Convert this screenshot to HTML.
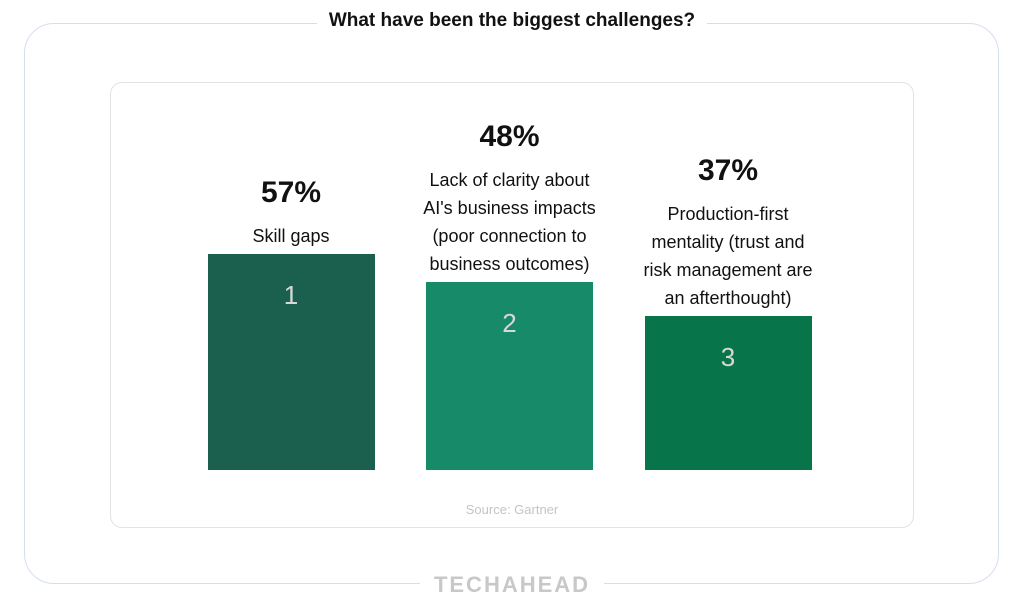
<!DOCTYPE html>
<html><head><meta charset="utf-8"><style>
body{margin:0;width:1024px;height:609px;background:#fff;position:relative;overflow:hidden;font-family:"Liberation Sans",sans-serif}
.abs{position:absolute}
#outer{left:24px;top:23px;width:975px;height:561px;border:1.5px solid #d5deef;border-radius:30px;box-sizing:border-box}
#title{left:0;width:1024px;top:10px;text-align:center;font-size:19px;font-weight:bold;color:#111}
#title span{background:#fff;padding:0 12px}
#inner{left:110px;top:82px;width:804px;height:446px;border:1px solid #e3e3e3;border-radius:12px;box-sizing:border-box}
#logo{left:0;width:1024px;top:572px;text-align:center;font-size:22px;font-weight:bold;color:#c8c8c8;letter-spacing:2px}
#logo span{background:#fff;padding:0 14px}
.pct{font-size:30px;font-weight:bold;color:#111;text-align:center;width:240px;line-height:34px}
.lab{font-size:18px;color:#111;text-align:center;width:240px;line-height:28px}
.bar{display:flex;align-items:flex-start;justify-content:center}
.bar span{margin-top:26px;font-size:26px;color:#d8d8d8}
#src{left:0;width:1024px;top:502px;text-align:center;font-size:13px;color:#c4c4c4}
</style></head><body>
<div id="outer" class="abs"></div>
<div id="title" class="abs"><span>What have been the biggest challenges?</span></div>
<div id="inner" class="abs"></div>
<div id="chart"></div>
<div id="src" class="abs">Source: Gartner</div>
<div id="logo" class="abs"><span>TECHAHEAD</span></div>
<script>
const categories=[["Skill gaps"],["Lack of clarity about","AI's business impacts","(poor connection to","business outcomes)"],["Production-first","mentality (trust and","risk management are","an afterthought)"]];
const values=[57,48,37];
const ranks=["1","2","3"];
const colors=["#1b5f4f","#178a6a","#08744a"];
const baseY=470, barW=167;
const xCenter=i=>291+i*218.5;
const hScale=v=>3.08*(v+13.15);
const chart=document.getElementById('chart');
values.forEach((v,i)=>{
  const top=baseY-hScale(v), cx=xCenter(i);
  const b=document.createElement('div');
  
  
  b.className='abs bar';
  b.style.cssText=`left:${cx-barW/2}px;top:${top}px;width:${barW}px;height:${baseY-top}px;background:${colors[i]}`;
  b.innerHTML='<span>'+ranks[i]+'</span>';
  chart.appendChild(b);
  const lines=categories[i];
  const lab=document.createElement('div');
  
  
  lab.className='abs lab';
  const labTop=top-19-14-(lines.length-1)*28+1;
  lab.style.cssText=`left:${cx-120}px;top:${labTop}px`;
  lab.innerHTML=lines.join('<br>');
  chart.appendChild(lab);
  const p=document.createElement('div');
  
  
  p.className='abs pct';
  p.style.cssText=`left:${cx-120}px;top:${labTop+14-44-16}px`;
  p.textContent=v+'%';
  chart.appendChild(p);
});
</script>
</body></html>
